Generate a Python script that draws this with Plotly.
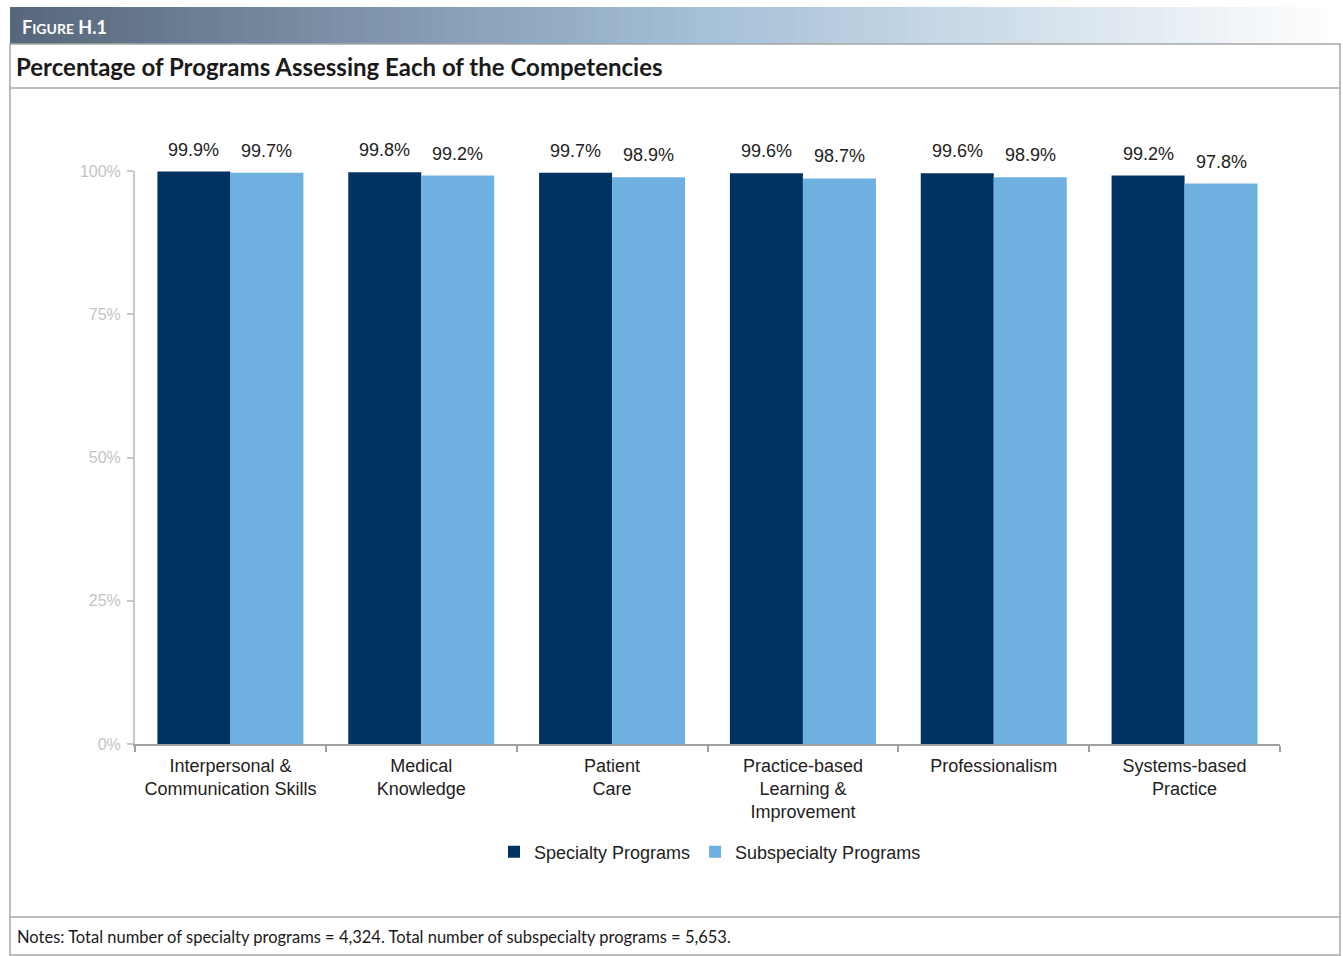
import plotly.graph_objects as go

categories = ["Interpersonal &<br>Communication Skills", "Medical<br>Knowledge", "Patient<br>Care",
              "Practice-based<br>Learning &<br>Improvement", "Professionalism", "Systems-based<br>Practice"]
specialty = [99.9, 99.8, 99.7, 99.6, 99.6, 99.2]
subspecialty = [99.7, 99.2, 98.9, 98.7, 98.9, 97.8]
y_ticks = [0, 25, 50, 75, 100]
y_tick_labels = ["0%", "25%", "50%", "75%", "100%"]

W, H = 1343, 956
def px(x): return x / W
def py(y): return 1 - y / H

DARK = "rgb(0,50,98)"
LIGHT = "rgb(110,177,225)"
LBL = dict(family="Liberation Sans, Arial", size=18, color="#222222")

fig = go.Figure()
fig.add_trace(go.Bar(x=categories, y=specialty, name="Specialty Programs", marker_color=DARK,
                     marker_line_width=0, cliponaxis=False))
fig.add_trace(go.Bar(x=categories, y=subspecialty, name="Subspecialty Programs", marker_color=LIGHT,
                     marker_line_width=0, cliponaxis=False))

shapes = []
# gradient header band
n = 120
x0, x1 = 10, 1340
c0 = (88, 103, 124)
cm = (165, 192, 215)
c1 = (255, 255, 255)
for i in range(n):
    t = i / (n - 1)
    if t < 0.52:
        u = t / 0.52
        c = tuple(int(c0[k] + (cm[k] - c0[k]) * u) for k in range(3))
    else:
        u = (t - 0.52) / 0.48
        c = tuple(int(cm[k] + (c1[k] - cm[k]) * u) for k in range(3))
    xa = x0 + (x1 - x0) * i / n
    xb = min(x1, x0 + (x1 - x0) * (i + 1) / n + 2)
    shapes.append(dict(type="rect", xref="paper", yref="paper", x0=px(xa), x1=px(xb),
                       y0=py(44), y1=py(7), fillcolor=f"rgb{c}", line_width=0, layer="below"))
# border box and separators
shapes.append(dict(type="rect", xref="paper", yref="paper", x0=px(10), x1=px(1340), y0=py(955), y1=py(44),
                   line=dict(color="#a6a6a6", width=1.5), fillcolor="rgba(0,0,0,0)"))
for yy in (88, 917):
    shapes.append(dict(type="line", xref="paper", yref="paper", x0=px(10), x1=px(1340), y0=py(yy), y1=py(yy),
                       line=dict(color="#a6a6a6", width=1.5)))

annotations = [
    dict(text="<b>F<span style='font-size:14px'>IGURE</span> H.1</b>", xref="paper", yref="paper",
         x=px(20), y=py(27), xanchor="left", yanchor="middle", showarrow=False,
         font=dict(family="Lato, Open Sans", size=18, color="white")),
    dict(text="<b>Percentage of Programs Assessing Each of the Competencies</b>", xref="paper", yref="paper",
         x=px(14), y=py(66), xanchor="left", yanchor="middle", showarrow=False,
         font=dict(family="Lato", size=24, color="#1a1a1a")),
    dict(text="Notes: Total number of specialty programs = 4,324. Total number of subspecialty programs = 5,653.",
         xref="paper", yref="paper", x=px(15), y=py(937), xanchor="left", yanchor="middle", showarrow=False,
         font=dict(family="Lato", size=16.5, color="#1a1a1a")),
]

# data labels above bars (group offset of half a bar width)
BAR_HALF_PX = 36.5
for vals, shift in ((specialty, -BAR_HALF_PX), (subspecialty, BAR_HALF_PX)):
    for cat, v in zip(categories, vals):
        annotations.append(dict(x=cat, y=v, xref="x", yref="y", text=f"{v:.1f}%", showarrow=False,
                                xanchor="center", yanchor="bottom", xshift=shift, yshift=10, font=LBL))

fig.update_layout(
    template="none",
    width=W, height=H, margin=dict(l=0, r=0, t=0, b=0, autoexpand=False),
    paper_bgcolor="white", plot_bgcolor="white",
    barmode="group", bargap=0.235, bargroupgap=0,
    shapes=shapes, annotations=annotations,
    font=dict(family="Liberation Sans, Arial", size=18, color="#222222"),
    xaxis=dict(domain=[px(135), px(1280)], showline=True, linecolor="#a0a0a0", linewidth=2,
               ticks="outside", tickson="boundaries", ticklen=6, tickcolor="#a0a0a0", tickwidth=2,
               tickfont=dict(family="Liberation Sans, Arial", size=18, color="#222222"),
               ticklabelstandoff=4, showgrid=False, automargin=False),
    yaxis=dict(domain=[py(744), py(171)], range=[0, 100], tickvals=y_ticks, ticktext=y_tick_labels,
               showline=True, linecolor="#c8c8c8", linewidth=2, ticks="outside", ticklen=6,
               tickcolor="#c8c8c8", tickwidth=2, showgrid=False, zeroline=False, automargin=False,
               tickfont=dict(family="Liberation Sans, Arial", size=16, color="#c4c4c4"),
               ticklabelstandoff=3),
    legend=dict(orientation="h", x=px(710), xanchor="center", y=py(852), yanchor="middle",
                font=dict(family="Liberation Sans, Arial", size=18, color="#222222"),
                itemwidth=30, tracegroupgap=0, bgcolor="rgba(0,0,0,0)"),
    showlegend=True,
)

fig.write_html("out.html", config={"displayModeBar": False},
               post_script="document.body.style.margin='0';document.body.style.overflow='hidden';")
